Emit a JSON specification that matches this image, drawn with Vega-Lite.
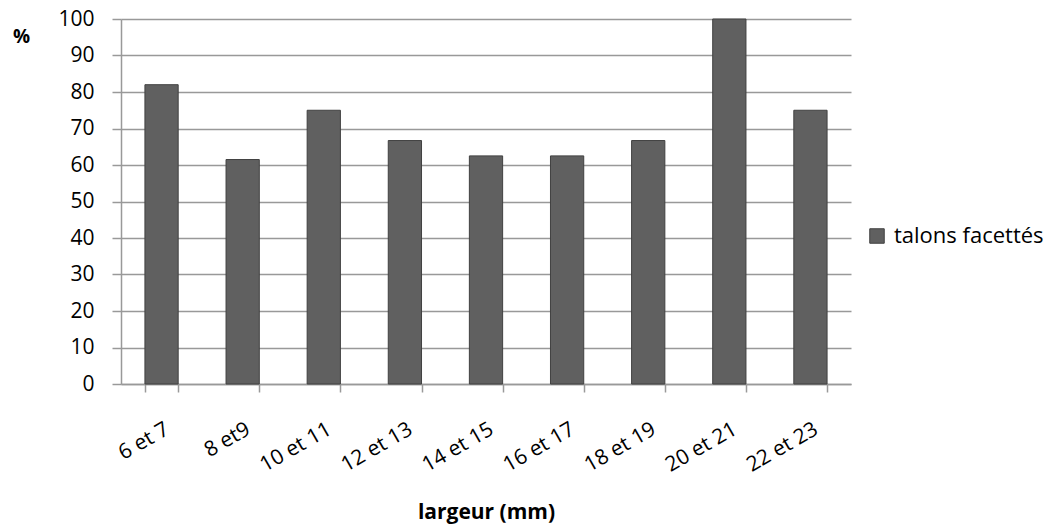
{
  "$schema": "https://vega.github.io/schema/vega-lite/v6.json",
  "width": 730,
  "height": 365,
  "autosize": {"type": "none"},
  "padding": {"left": 121, "top": 19, "right": 198, "bottom": 147},
  "background": "white",
  "config": {
    "view": {"stroke": null},
    "font": "Open Sans"
  },
  "data": {
    "values": [
      {"largeur": "6 et 7", "pct": 82, "serie": "talons facettés"},
      {"largeur": "8 et9", "pct": 61.5, "serie": "talons facettés"},
      {"largeur": "10 et 11", "pct": 75, "serie": "talons facettés"},
      {"largeur": "12 et 13", "pct": 66.7, "serie": "talons facettés"},
      {"largeur": "14 et 15", "pct": 62.5, "serie": "talons facettés"},
      {"largeur": "16 et 17", "pct": 62.5, "serie": "talons facettés"},
      {"largeur": "18 et 19", "pct": 66.7, "serie": "talons facettés"},
      {"largeur": "20 et 21", "pct": 100, "serie": "talons facettés"},
      {"largeur": "22 et 23", "pct": 75, "serie": "talons facettés"}
    ]
  },
  "mark": {"type": "bar", "stroke": "#404040", "strokeWidth": 1},
  "encoding": {
    "x": {
      "field": "largeur",
      "type": "nominal",
      "sort": null,
      "scale": {"paddingInner": 0.59, "paddingOuter": 0.295},
      "axis": {
        "title": "largeur (mm)",
        "titleFont": "Open Sans",
        "titleFontSize": 21,
        "titleFontWeight": "bold",
        "titleColor": "black",
        "titleY": 128,
        "titleBaseline": "middle",
        "labelFont": "Open Sans",
        "labelFontSize": 21,
        "labelColor": "black",
        "labelAngle": -30,
        "labelAlign": "right",
        "labelBaseline": "top",
        "labelPadding": 26,
        "tickBand": "extent",
        "ticks": true,
        "tickSize": 8,
        "tickWidth": 1.5,
        "tickColor": "#999999",
        "domainColor": "#999999",
        "domainWidth": 1.5,
        "grid": false
      }
    },
    "y": {
      "field": "pct",
      "type": "quantitative",
      "scale": {"domain": [0, 100], "nice": false},
      "axis": {
        "title": "%",
        "titleAngle": 0,
        "titleX": -100,
        "titleY": 17,
        "titleAlign": "center",
        "titleBaseline": "middle",
        "titleFont": "Open Sans",
        "titleFontSize": 19,
        "titleFontWeight": "bold",
        "titleColor": "black",
        "values": [0, 10, 20, 30, 40, 50, 60, 70, 80, 90, 100],
        "labelFont": "Open Sans",
        "labelFontSize": 21,
        "labelColor": "black",
        "labelPadding": 18,
        "ticks": true,
        "tickSize": 9,
        "tickWidth": 1.5,
        "tickColor": "#999999",
        "domainColor": "#999999",
        "domainWidth": 1.5,
        "grid": true,
        "gridColor": "#999999",
        "gridWidth": 1.5
      }
    },
    "color": {
      "field": "serie",
      "type": "nominal",
      "scale": {"range": ["#606060"]},
      "legend": {
        "title": null,
        "orient": "none",
        "legendX": 745,
        "legendY": 206,
        "symbolType": "square",
        "symbolSize": 210,
        "symbolStrokeColor": "#404040",
        "symbolStrokeWidth": 1,
        "labelFont": "Open Sans",
        "labelFontSize": 22,
        "labelColor": "black",
        "labelOffset": 6
      }
    }
  }
}
